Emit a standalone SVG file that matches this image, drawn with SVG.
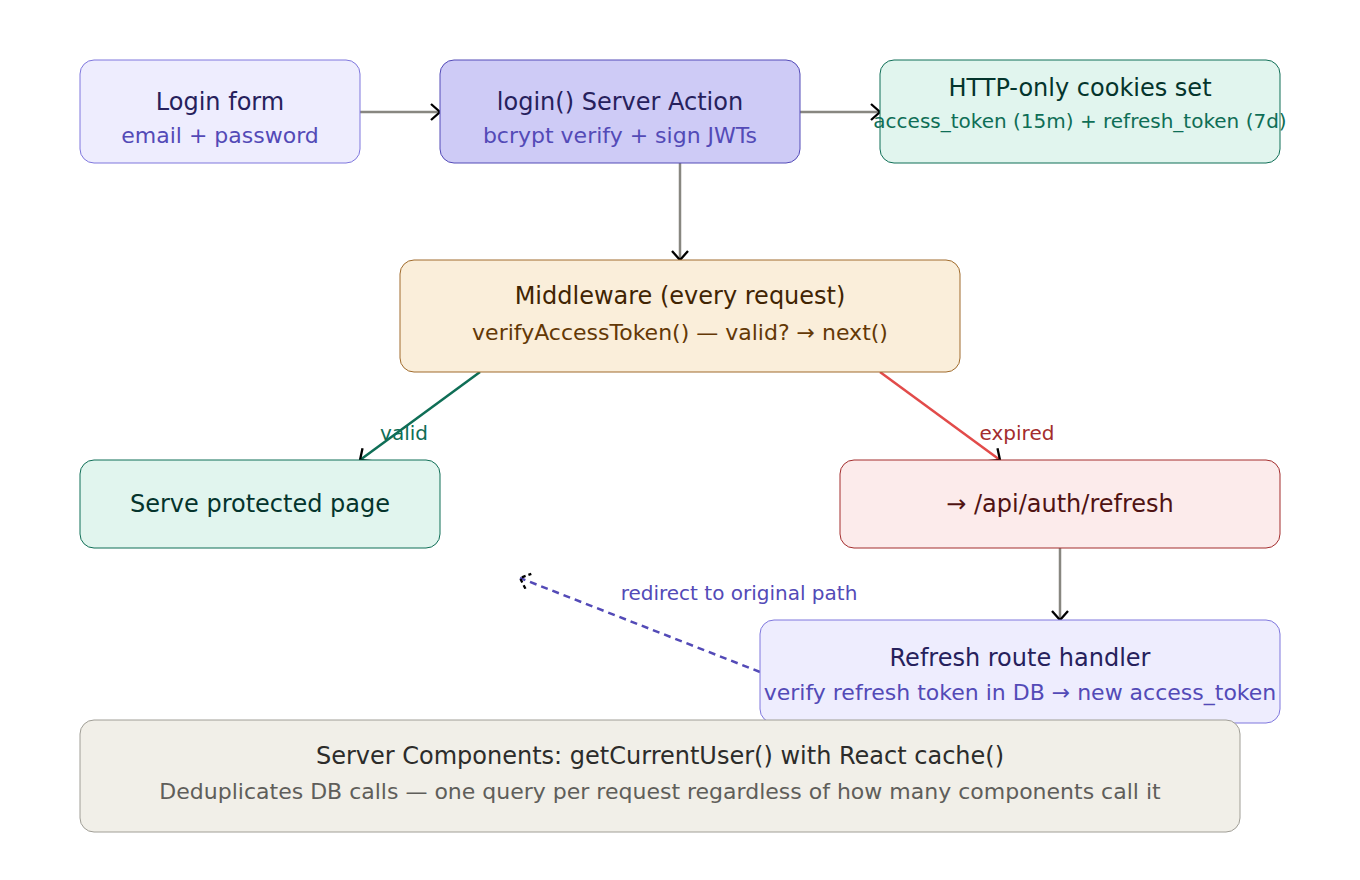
<svg xmlns="http://www.w3.org/2000/svg" width="1360" height="880" viewBox="0 0 1360 880">
<style>
text{font-family:"DejaVu Sans","Liberation Sans",sans-serif;text-anchor:middle;dominant-baseline:central}
.t{font-size:24px}
.s{font-size:22px}
.s2{font-size:20px}
.lbl{font-size:20px}
.box{stroke-width:1}
.con{fill:none;stroke-width:2.5}
</style>
<defs>
<marker id="ah" markerUnits="userSpaceOnUse" viewBox="0 0 12 18" refX="10" refY="9" markerWidth="12" markerHeight="18" orient="auto">
<path d="M1,1 L10,9 L1,17" fill="none" stroke="#000" stroke-width="2.3"/>
</marker>
<marker id="ahd" markerUnits="userSpaceOnUse" viewBox="0 0 12 18" refX="10" refY="9" markerWidth="12" markerHeight="18" orient="auto">
<path d="M1,1 L10,9 L1,17" fill="none" stroke="#000" stroke-width="2.3" stroke-dasharray="4 3"/>
</marker>
</defs>
<rect width="1360" height="880" fill="#fff"/>
<g id="connectors">
<line class="con" x1="360" y1="112" x2="440" y2="112" stroke="#888780" marker-end="url(#ah)"/>
<line class="con" x1="800" y1="112" x2="880" y2="112" stroke="#888780" marker-end="url(#ah)"/>
<line class="con" x1="680" y1="163" x2="680" y2="260" stroke="#888780" marker-end="url(#ah)"/>
<line class="con" x1="480" y1="372" x2="360" y2="460" stroke="#0f6e56" marker-end="url(#ah)"/>
<line class="con" x1="880" y1="372" x2="1000" y2="460" stroke="#e24b4a" marker-end="url(#ah)"/>
<line class="con" x1="1060" y1="548" x2="1060" y2="620" stroke="#888780" marker-end="url(#ah)"/>
<line class="con" x1="760" y1="672" x2="520" y2="578" stroke="#534ab7" stroke-dasharray="7 5" marker-end="url(#ahd)"/>
<text class="lbl" x="404" y="433" fill="#0f6e56">valid</text>
<text class="lbl" x="1017" y="433" fill="#a32d2d">expired</text>
<text class="lbl" x="739" y="593" fill="#534ab7">redirect to original path</text>
</g>
<g id="login-form">
<rect class="box" x="80" y="60" width="280" height="103" rx="14" fill="#eeedfe" stroke="#7f77dd"/>
<text class="t" x="220" y="102" fill="#26215c">Login form</text>
<text class="s" x="220" y="135" fill="#534ab7">email + password</text>
</g>
<g id="login-action">
<rect class="box" x="440" y="60" width="360" height="103" rx="14" fill="#cecbf6" stroke="#534ab7"/>
<text class="t" x="620" y="102" fill="#26215c">login() Server Action</text>
<text class="s" x="620" y="135" fill="#534ab7">bcrypt verify + sign JWTs</text>
</g>
<g id="cookies">
<rect class="box" x="880" y="60" width="400" height="103" rx="14" fill="#e1f5ee" stroke="#0f6e56"/>
<text class="t" x="1080" y="88" fill="#04342c">HTTP-only cookies set</text>
<text class="s2" x="1080" y="121" fill="#0f6e56">access_token (15m) + refresh_token (7d)</text>
</g>
<g id="middleware">
<rect class="box" x="400" y="260" width="560" height="112" rx="14" fill="#faeeda" stroke="#a06b2c"/>
<text class="t" x="680" y="296" fill="#412402">Middleware (every request)</text>
<text class="s" x="680" y="332" fill="#633806">verifyAccessToken() — valid? → next()</text>
</g>
<g id="serve-page">
<rect class="box" x="80" y="460" width="360" height="88" rx="14" fill="#e1f5ee" stroke="#0f6e56"/>
<text class="t" x="260" y="504" fill="#04342c">Serve protected page</text>
</g>
<g id="refresh-api">
<rect class="box" x="840" y="460" width="440" height="88" rx="14" fill="#fcebeb" stroke="#a32d2d"/>
<text class="t" x="1060" y="504" fill="#501313">→ /api/auth/refresh</text>
</g>
<g id="refresh-handler">
<rect class="box" x="760" y="620" width="520" height="103" rx="14" fill="#eeedfe" stroke="#7f77dd"/>
<text class="t" x="1020" y="658" fill="#26215c">Refresh route handler</text>
<text class="s" x="1020" y="692" fill="#534ab7">verify refresh token in DB → new access_token</text>
</g>
<g id="server-components">
<rect class="box" x="80" y="720" width="1160" height="112" rx="14" fill="#f1efe8" stroke="#a09e96"/>
<text class="t" x="660" y="756" fill="#2c2c2a">Server Components: getCurrentUser() with React cache()</text>
<text class="s" x="660" y="791" fill="#5f5e5a">Deduplicates DB calls — one query per request regardless of how many components call it</text>
</g>
</svg>
